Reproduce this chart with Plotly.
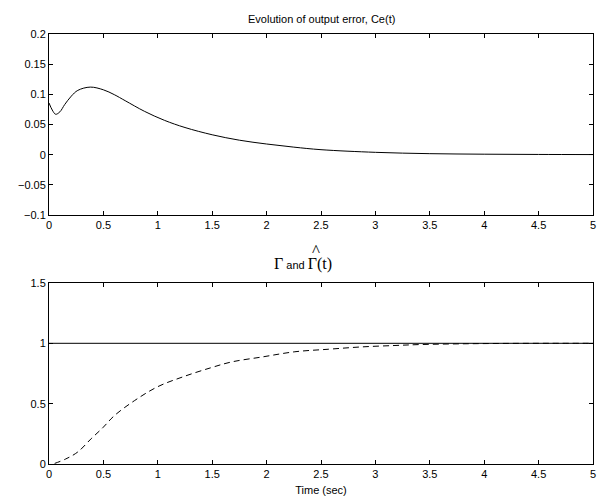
import plotly.graph_objects as go
from plotly.subplots import make_subplots

# output error Ce(t)
t_err = [0, 0.03, 0.061, 0.1, 0.144, 0.205, 0.265, 0.38, 0.5, 0.6, 0.7,
         0.876, 1.06, 1.25, 1.5, 1.75, 2.0, 2.25, 2.5, 3.0, 3.5, 4.0, 4.5, 5.0]
ce = [0.0857, 0.074, 0.067, 0.071, 0.083, 0.097, 0.1066, 0.112, 0.1075, 0.0995, 0.0895,
      0.072, 0.057, 0.045, 0.033, 0.024, 0.0177, 0.0125, 0.0083, 0.0039, 0.0017, 0.0008, 0.0004, 0.0002]

# Gamma (true) and Gamma-hat (estimate), lower panel
t_gam = [0, 5]
gamma = [1, 1]
t_hat = [0.052, 0.15, 0.265, 0.388, 0.494, 0.60, 0.784, 0.998, 1.24, 1.486, 1.68, 1.96,
         2.26, 2.57, 2.87, 3.18, 3.42, 3.8, 4.2, 4.6, 5.0]
gamma_hat = [0.005, 0.04, 0.10, 0.21, 0.30, 0.40, 0.524, 0.64, 0.725, 0.797, 0.846, 0.887,
             0.93, 0.951, 0.97, 0.982, 0.99, 0.996, 0.999, 1.0, 1.0]

x_ticks = [0, 0.5, 1, 1.5, 2, 2.5, 3, 3.5, 4, 4.5, 5]

sans = 'Liberation Sans, Arial'
serif = 'Liberation Serif, Times New Roman'

fig = make_subplots(rows=2, cols=1, vertical_spacing=0.158)

fig.add_trace(go.Scatter(x=t_err, y=ce, mode='lines', line=dict(color='black', width=1, shape='spline'),
                         showlegend=False), row=1, col=1)
fig.add_trace(go.Scatter(x=t_gam, y=gamma, mode='lines', line=dict(color='black', width=1),
                         showlegend=False), row=2, col=1)
fig.add_trace(go.Scatter(x=t_hat, y=gamma_hat, mode='lines',
                         line=dict(color='black', width=1, dash='6px,4px', shape='spline'),
                         showlegend=False), row=2, col=1)

axis_style = dict(showline=True, linecolor='black', linewidth=1, mirror='ticks', ticks='inside',
                  ticklen=4, tickcolor='black', showgrid=False, zeroline=False, automargin=False,
                  ticklabeloverflow='allow',
                  tickfont=dict(family=sans, size=11, color='black'))

fig.update_xaxes(range=[0, 5], tickvals=x_ticks, **axis_style)
fig.update_yaxes(range=[-0.1, 0.2], tickvals=[-0.1, -0.05, 0, 0.05, 0.1, 0.15, 0.2],
                 ticktext=['\u22120.1', '\u22120.05', '0', '0.05', '0.1', '0.15', '0.2'],
                 row=1, col=1, **axis_style)
fig.update_yaxes(range=[0, 1.5], tickvals=[0, 0.5, 1, 1.5], ticktext=['0', '0.5', '1', '1.5'],
                 row=2, col=1, **axis_style)
fig.update_xaxes(title=dict(text='Time (sec)', standoff=7, font=dict(family=sans, size=11, color='black')),
                 row=2, col=1)

fig.update_layout(
  width=597, height=499,
  margin=dict(l=49, r=4, t=34, b=35),
  plot_bgcolor='white', paper_bgcolor='white',
  annotations=[
    dict(text='Evolution of output error, Ce(t)', x=0.5, y=1, xref='paper', yref='paper',
         yanchor='bottom', yshift=7, showarrow=False,
         font=dict(family=sans, size=11, color='black')),
    dict(text=f'<span style="font-family:{serif};font-size:16px">\u0393</span> and '
              f'<span style="font-family:{serif};font-size:16px">\u0393(t)</span>',
         x=2.33, y=0.421, xref='x2', yref='paper', yanchor='bottom', yshift=8, showarrow=False,
         font=dict(family=sans, size=11, color='black')),
    # hat over the estimated Gamma
    dict(text='^', x=2.45, y=0.421, xref='x2', yref='paper', yanchor='bottom', yshift=21,
         showarrow=False, font=dict(family=serif, size=17, color='black')),
  ],
)

fig.write_html("out.html", config={'displayModeBar': False},
               post_script="document.body.style.margin='0';")
